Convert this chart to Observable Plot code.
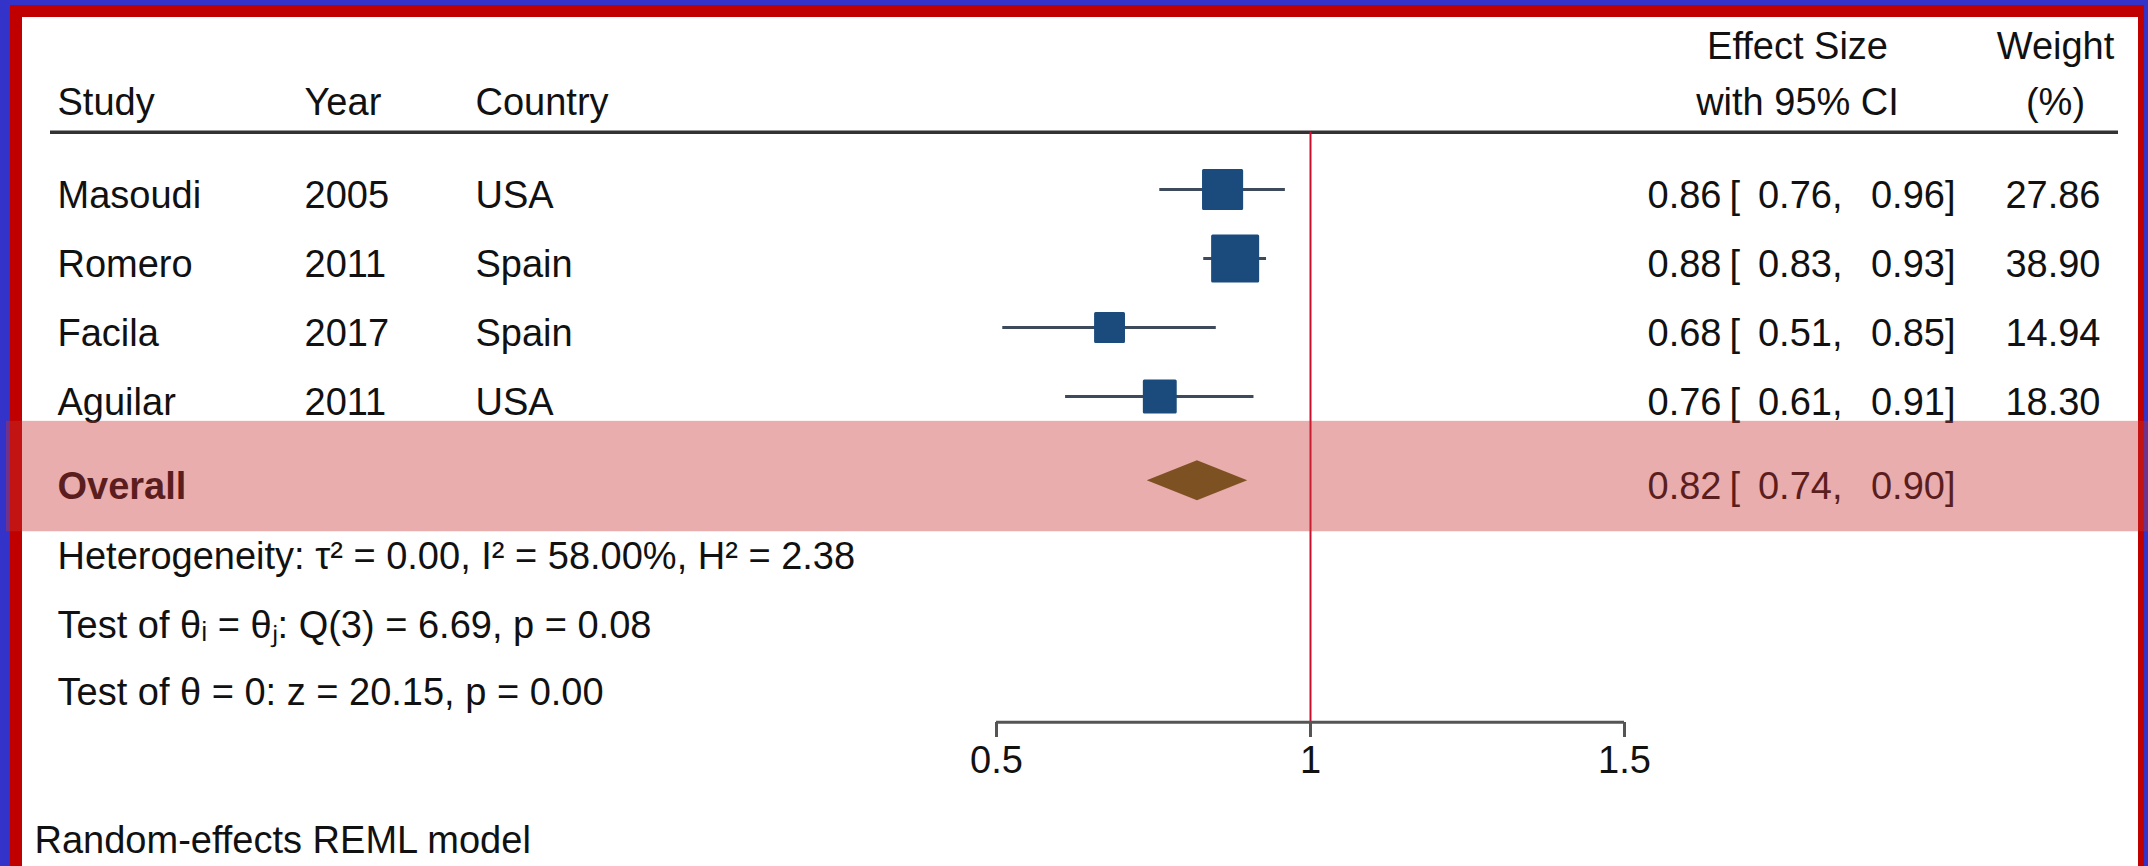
<!DOCTYPE html>
<html><head><meta charset="utf-8">
<script src="https://cdn.jsdelivr.net/npm/d3@7"></script>
<script src="https://cdn.jsdelivr.net/npm/@observablehq/plot@0.6"></script>
<style>
html,body{margin:0;padding:0;width:2148px;height:866px;overflow:hidden;background:#3333c9;}
#frame{position:absolute;left:10px;top:5px;width:2134px;height:900px;box-sizing:border-box;border-left:12px solid #c00000;border-top:12px solid #c00000;border-right:6px solid #c00000;background:#fff;}
#chart{position:absolute;left:0;top:0;}
</style></head><body>
<div id="frame"></div>
<div id="chart"></div>
<script>
// ---- data ----
const studies = ["Masoudi", "Romero", "Facila", "Aguilar"];
const years = [2005, 2011, 2017, 2011];
const countries = ["USA", "Spain", "Spain", "USA"];
const effect = [0.86, 0.88, 0.68, 0.76];
const ciLow = [0.76, 0.83, 0.51, 0.61];
const ciHigh = [0.96, 0.93, 0.85, 0.91];
const weights = [27.86, 38.90, 14.94, 18.30];
const overallLabel = "Overall";
const overallEffect = [0.82];
const overallLow = [0.74];
const overallHigh = [0.90];
const heterogeneity = [0.00, 58.00, 2.38];   // tau2, I2 (%), H2
const homogeneityTest = [3, 6.69, 0.08];      // df, Q, p
const effectTest = [20.15, 0.00];             // z, p
const xTicks = [0.5, 1, 1.5];
const nullEffect = 1;
const modelNote = "Random-effects REML model";

// ---- layout (row units: study rows are 1..4) ----
const L = {head1: -1.09, head2: -0.29, rule: 0.17, overall: 5.22, bandTop: 4.36, bandBottom: 5.96,
  stats: [6.30, 7.30, 8.26], axis: 8.72, caption: 10.41, diamondHalf: 0.29};
const COL = {study: 57, year: 304, country: 475, est: 1721, open: 1729, lo: 1842, hi: 1955, wt: 2100, esHead: 1797, wtHead: 2055, caption: 34};
const FS = 38;

const rows = studies.map((s, i) => ({study: s, year: years[i], country: countries[i], est: effect[i], lo: ciLow[i], hi: ciHigh[i], w: weights[i], row: i + 1}));
const ov = {study: overallLabel, est: overallEffect[0], lo: overallLow[0], hi: overallHigh[0], row: L.overall};
const diamond = [
  {y: L.overall - L.diamondHalf, x1: ov.est, x2: ov.est},
  {y: L.overall, x1: ov.lo, x2: ov.hi},
  {y: L.overall + L.diamondHalf, x1: ov.est, x2: ov.est}
];
const f2 = v => v.toFixed(2);
const statLines = [
  `Heterogeneity: τ² = ${f2(heterogeneity[0])}, I² = ${f2(heterogeneity[1])}%, H² = ${f2(heterogeneity[2])}`,
  `Test of θᵢ = θⱼ: Q(${homogeneityTest[0]}) = ${f2(homogeneityTest[1])}, p = ${f2(homogeneityTest[2])}`,
  `Test of θ = 0: z = ${f2(effectTest[0])}, p = ${f2(effectTest[1])}`
];

const txt = (data, opts) => Plot.text(data, {frameAnchor: "left", fontSize: FS, fill: "#111", dy: 2, ...opts});

const allEff = [...rows, ov];
const chart = Plot.plot({
  width: 2148, height: 866,
  marginLeft: 0, marginRight: 0, marginTop: 0, marginBottom: 144,
  x: {domain: [0.5, 1.5], range: [996, 1624]},
  y: {domain: [1, 4], range: [189, 396], axis: null},
  r: {type: "sqrt", domain: [0, d3.max(weights)], range: [0, 25.4]},
  style: {background: "transparent", fontFamily: "'Liberation Sans', Arial, Helvetica, sans-serif", fontSize: "38px", color: "#111", overflow: "visible"},
  marks: [
    // header rule
    Plot.ruleY([L.rule], {y: d => d, insetLeft: 50, insetRight: 30, stroke: "#333", strokeWidth: 3.5}),
    // headers
    txt(["Study"], {y: () => L.head2, text: d => d, dx: COL.study, textAnchor: "start"}),
    txt(["Year"], {y: () => L.head2, text: d => d, dx: COL.year, textAnchor: "start"}),
    txt(["Country"], {y: () => L.head2, text: d => d, dx: COL.country, textAnchor: "start"}),
    txt(["Effect Size", "with 95% CI"], {y: (d, i) => i ? L.head2 : L.head1, text: d => d, dx: COL.esHead, textAnchor: "middle"}),
    txt(["Weight", "(%)"], {y: (d, i) => i ? L.head2 : L.head1, text: d => d, dx: COL.wtHead, textAnchor: "middle"}),
    // null line
    Plot.ruleX([nullEffect], {x: d => d, y1: L.rule, y2: L.axis, stroke: "#c8102e", strokeWidth: 2}),
    // CIs and boxes
    Plot.ruleY(rows, {y: "row", x1: "lo", x2: "hi", stroke: "#3d4a5c", strokeWidth: 3}),
    Plot.dot(rows, {x: "est", y: "row", r: "w", symbol: "square", fill: "#1b4b7c", stroke: "#1b4b7c", strokeWidth: 3, strokeLinejoin: "round"}),
    // overall diamond
    Plot.areaX(diamond, {y: "y", x1: "x1", x2: "x2", fill: "#4e6719"}),
    // row text
    txt(rows, {y: "row", text: "study", dx: COL.study, textAnchor: "start", dy: 6}),
    txt(rows, {y: "row", text: d => String(d.year), dx: COL.year, textAnchor: "start", dy: 6}),
    txt(rows, {y: "row", text: "country", dx: COL.country, textAnchor: "start", dy: 6}),
    txt([ov], {y: "row", text: "study", dx: COL.study, textAnchor: "start", dy: 6, fontWeight: "bold"}),
    txt(allEff, {y: "row", text: d => f2(d.est), dx: COL.est, textAnchor: "end", dy: 6}),
    txt(allEff, {y: "row", text: () => "[", dx: COL.open, textAnchor: "start", dy: 6}),
    txt(allEff, {y: "row", text: d => f2(d.lo) + ",", dx: COL.lo, textAnchor: "end", dy: 6}),
    txt(allEff, {y: "row", text: d => f2(d.hi) + "]", dx: COL.hi, textAnchor: "end", dy: 6}),
    txt(rows, {y: "row", text: d => f2(d.w), dx: COL.wt, textAnchor: "end", dy: 6}),
    // statistics
    txt(statLines, {y: (d, i) => L.stats[i], text: d => d, dx: COL.study, textAnchor: "start"}),
    txt([modelNote], {y: () => L.caption, text: d => d, dx: COL.caption, textAnchor: "start"}),
    // axis
    Plot.ruleY([L.axis], {y: d => d, x1: d3.min(xTicks), x2: d3.max(xTicks), stroke: "#555", strokeWidth: 3}),
    Plot.axisX({ticks: xTicks, anchor: "bottom", tickSize: 15, tickPadding: 9, tickFormat: d => String(d), fontSize: FS, stroke: "#555", strokeWidth: 3, color: "#111", label: null}),
    // highlight band on top
    Plot.rect([0], {y1: () => L.bandTop, y2: () => L.bandBottom, fill: "#c83232", fillOpacity: 0.4, insetLeft: 6})
  ]
});
document.getElementById("chart").appendChild(chart);
</script>
</body></html>
